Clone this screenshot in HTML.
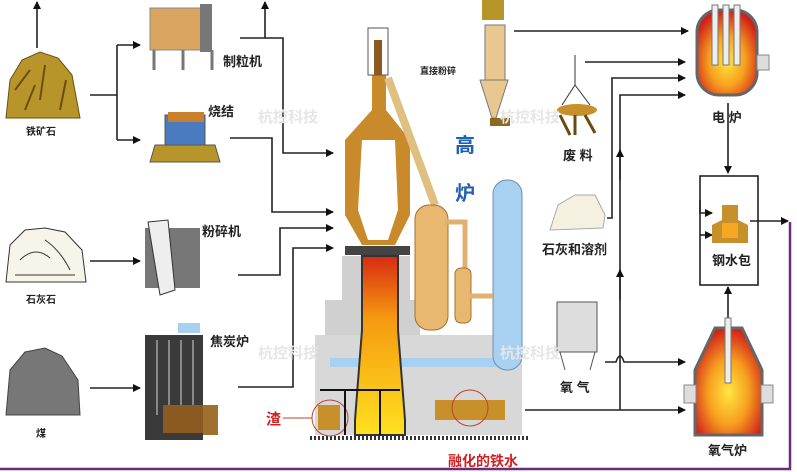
<!DOCTYPE html>
<html><head><meta charset="utf-8"><style>
body{margin:0;background:#fff;width:797px;height:472px;overflow:hidden}
svg{display:block}
text{font-family:"Liberation Sans","Noto Sans CJK SC",sans-serif;font-weight:bold}
</style></head><body>
<svg width="797" height="472" viewBox="0 0 797 472" xmlns="http://www.w3.org/2000/svg">
<defs>
<marker id="a" markerWidth="8" markerHeight="8" refX="7" refY="4" orient="auto" markerUnits="userSpaceOnUse"><path d="M0,0L8,4L0,8z" fill="#111"/></marker>
<linearGradient id="fl" x1="0" y1="0" x2="0" y2="1"><stop offset="0" stop-color="#d92a10"/><stop offset="0.35" stop-color="#f59a10"/><stop offset="1" stop-color="#ffe020"/></linearGradient>
<radialGradient id="rf" cx="0.5" cy="0.6" r="0.6"><stop offset="0" stop-color="#ffe640"/><stop offset="0.5" stop-color="#f7a020"/><stop offset="1" stop-color="#d0201a"/></radialGradient>
</defs>
<g fill="none" stroke="#222" stroke-width="1.6">
<path d="M37,48V2" marker-end="url(#a)"/>
<path d="M90,95H117M117,45V140"/>
<path d="M117,45H140" marker-end="url(#a)"/><path d="M117,140H140" marker-end="url(#a)"/>
<path d="M240,38H283V153H333" marker-end="url(#a)"/>
<path d="M265,38V2" marker-end="url(#a)"/>
<path d="M230,138H272V212H333" marker-end="url(#a)"/>
<path d="M90,261H140" marker-end="url(#a)"/>
<path d="M238,275H280V228H333" marker-end="url(#a)"/>
<path d="M90,388H140" marker-end="url(#a)"/>
<path d="M238,387H293V248H333" marker-end="url(#a)"/>
<path d="M514,31H688" marker-end="url(#a)"/>
<path d="M585,62H685" marker-end="url(#a)"/>
<path d="M607,218H612V78H685" marker-end="url(#a)"/>
<path d="M620,410V95H685" marker-end="url(#a)"/>
<path d="M620,180V150" marker-end="url(#a)"/>
<path d="M620,300V270" marker-end="url(#a)"/>
<path d="M605,362H616Q620,350 624,362H685" marker-end="url(#a)"/>
<path d="M525,410H685" marker-end="url(#a)"/>
<path d="M728,103V173" marker-end="url(#a)"/>
<path d="M728,320V287" marker-end="url(#a)"/>
<rect x="700" y="176" width="58" height="109"/>
<path d="M700,200V213H712" marker-end="url(#a)"/>
<path d="M700,235H712" marker-end="url(#a)"/>
<path d="M750,221H788" marker-end="url(#a)"/>
</g>
<path d="M0,469H790V222" fill="none" stroke="#6b2d7a" stroke-width="2.5"/>
<path d="M6,118L10,80L22,60L40,52L58,58L72,75L80,118Z" fill="#b8952a" stroke="#6a5010"/>
<path d="M15,90L30,70M40,100L45,65M60,110L66,80M25,110L35,85" stroke="#6a5010" stroke-width="2"/>
<rect x="150" y="8" width="58" height="42" fill="#d9a560" stroke="#888"/>
<rect x="200" y="4" width="12" height="48" fill="#777"/>
<path d="M154,50V70M183,50V70M212,50V70" stroke="#777" stroke-width="3"/>
<path d="M150,162L155,145H215L220,162Z" fill="#b8952a" stroke="#555"/>
<rect x="165" y="115" width="40" height="30" fill="#4a7ac0" stroke="#555"/>
<rect x="168" y="112" width="36" height="10" fill="#c8802a"/>
<path d="M6,282L10,245L25,230L45,228L65,232L82,250L86,282Z" fill="#f7f4ea" stroke="#333"/>
<path d="M20,260Q35,245 50,258M45,240Q60,250 70,270M15,275H75" stroke="#333" fill="none"/>
<rect x="145" y="228" width="55" height="60" fill="#777"/>
<path d="M148,222L168,220L175,290L160,295Z" fill="#eee" stroke="#333"/>
<path d="M6,415L10,370L25,352L45,348L62,356L78,380L80,415Z" fill="#777" stroke="#444"/>
<rect x="145" y="335" width="58" height="105" fill="#3a3a3a"/>
<path d="M157,340V415M169,340V415M181,340V415M193,340V415" stroke="#888" stroke-width="2"/>
<rect x="163" y="405" width="40" height="28" fill="#8b5a20"/>
<rect x="203" y="405" width="15" height="30" fill="#a07030"/>
<rect x="178" y="323" width="22" height="10" fill="#a8d0f0"/>
<rect x="315" y="335" width="207" height="100" fill="#d8d8d8"/>
<path d="M342,256H410V300H420V335H325V300H342Z" fill="#d0d0d0"/>
<rect x="330" y="358" width="175" height="9" fill="#a8d0f0"/>
<rect x="493" y="180" width="29" height="190" rx="14" fill="#a8d0f0" stroke="#7090b0"/>
<path d="M362,256H398L398,330L405,420V435H355V420L362,330Z" fill="url(#fl)" stroke="#333" stroke-width="2"/>
<path d="M372,75H386V110L410,140V215L395,245H362L345,215V140L372,110Z" fill="#c88a2a"/>
<path d="M362,140H395L398,210L388,240H368L358,210Z" fill="#fff"/>
<rect x="345" y="246" width="65" height="9" fill="#444"/>
<rect x="368" y="28" width="20" height="47" fill="#fff" stroke="#555"/>
<rect x="374" y="40" width="8" height="35" fill="#8b5a20"/>
<path d="M388,78L435,205" stroke="#e0c080" stroke-width="8"/>
<rect x="415" y="205" width="33" height="125" rx="14" fill="#e8b870" stroke="#a07030"/>
<path d="M445,222H465V270" stroke="#e0b070" stroke-width="5" fill="none"/>
<rect x="455" y="268" width="16" height="55" rx="6" fill="#e8b870" stroke="#a07030"/>
<path d="M470,296H493" stroke="#e0b070" stroke-width="5"/>
<path d="M310,438H530" stroke="#333" stroke-width="4" stroke-dasharray="2,2"/>
<rect x="318" y="405" width="22" height="25" fill="#c8902a"/>
<circle cx="330" cy="418" r="18" fill="none" stroke="#c04030"/>
<rect x="435" y="400" width="70" height="20" fill="#c8902a"/>
<circle cx="470" cy="408" r="18" fill="none" stroke="#c04030"/>
<path d="M320,390H400M345,390V435M380,390V435" stroke="#111" stroke-width="2" fill="none"/>
<rect x="482" y="0" width="22" height="20" fill="#b8952a"/>
<rect x="485" y="25" width="20" height="55" fill="#e8c890" stroke="#777"/>
<path d="M480,80H508L496,118H492Z" fill="#e8c890" stroke="#777"/>
<rect x="490" y="118" width="20" height="8" fill="#8b6a20"/>
<path d="M575,55V85M562,105L575,85L590,105" stroke="#333" fill="none"/>
<ellipse cx="577" cy="110" rx="20" ry="6" fill="#c8902a"/>
<path d="M560,115L570,135M575,115V135M585,115L595,133" stroke="#6a4a10" stroke-width="3"/>
<path d="M550,230L558,205L575,195L595,195L605,215L603,228Z" fill="#f5f1e0" stroke="#aaa"/>
<rect x="557" y="302" width="40" height="50" fill="#ddd" stroke="#555"/>
<path d="M560,352L565,370M595,352L590,370" stroke="#555"/>
<rect x="697" y="10" width="60" height="85" rx="22" fill="url(#rf)" stroke="#666" stroke-width="3"/>
<rect x="712" y="5" width="6" height="60" fill="#eee" stroke="#777"/>
<rect x="723" y="5" width="6" height="60" fill="#eee" stroke="#777"/>
<rect x="734" y="5" width="6" height="60" fill="#eee" stroke="#777"/>
<rect x="757" y="55" width="12" height="15" fill="#ddd" stroke="#888"/>
<path d="M712,243V225L722,220V205H738V220L748,225V243Z" fill="#c8902a"/>
<rect x="722" y="223" width="16" height="15" fill="#f7a820"/>
<path d="M695,435V370L715,328H742L762,370V435Z" fill="url(#rf)" stroke="#666" stroke-width="3"/>
<rect x="725" y="318" width="6" height="65" fill="#eee" stroke="#777"/>
<rect x="684" y="385" width="12" height="18" fill="#ddd" stroke="#888"/>
<rect x="761" y="385" width="12" height="18" fill="#ddd" stroke="#888"/>
<g font-size="10" fill="#222">
<text x="26" y="135">铁矿石</text>
<text x="26" y="303">石灰石</text>
<text x="36" y="437">煤</text>
<text x="420" y="74" font-size="9">直接粉碎</text>
</g>
<g font-size="13" fill="#222">
<text x="223" y="66">制粒机</text>
<text x="208" y="116">烧结</text>
<text x="202" y="236">粉碎机</text>
<text x="210" y="346">焦炭炉</text>
<text x="563" y="160">废 料</text>
<text x="542" y="254">石灰和溶剂</text>
<text x="560" y="392">氧 气</text>
<text x="712" y="122">电 炉</text>
<text x="712" y="265">钢水包</text>
<text x="708" y="455">氧气炉</text>
</g>
<text x="455" y="152" font-size="20" fill="#2060b0">高</text>
<text x="455" y="200" font-size="20" fill="#2060b0">炉</text>
<text x="266" y="424" font-size="15" fill="#d02020">渣</text>
<path d="M283,418H312" stroke="#c04030"/>
<text x="448" y="466" font-size="14" fill="#d02020">融化的铁水</text>
<g font-size="15" fill="#e6e6e6" font-weight="normal">
<text x="258" y="122">杭控科技</text>
<text x="258" y="358">杭控科技</text>
<text x="500" y="122">杭控科技</text>
<text x="500" y="358">杭控科技</text>
</g>
</svg>
</body></html>
